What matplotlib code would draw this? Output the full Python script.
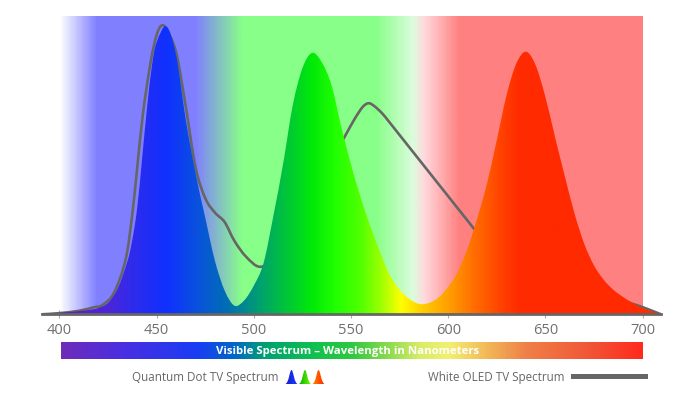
import numpy as np
import matplotlib
matplotlib.use("Agg")
import matplotlib.pyplot as plt
from matplotlib.path import Path
from matplotlib.patches import PathPatch
from matplotlib.colors import LinearSegmentedColormap

# Quantum dot TV spectrum (relative intensity)
qd_nm = [400, 405, 410, 415, 420, 425, 430, 435, 437.5, 440, 442.5, 445, 447.5, 450, 455,
         460, 465, 470, 475, 480, 485, 490, 495, 500, 505, 510, 515, 520, 525, 530,
         535, 540, 545, 550, 555, 560, 565, 570, 575, 580, 585, 590, 595, 600, 605,
         610, 615, 620, 625, 630, 635, 640, 645, 650, 655, 660, 665, 670, 675, 680,
         685, 690, 695, 700, 705, 709]
qd_val = [0.5, 0.8, 1.1, 1.5, 2.2, 4.0, 9.0, 18.5, 26.0, 37.0, 54.0, 71.5, 86.0, 94.5, 100.0,
          90.0, 67.5, 49.0, 33.5, 18.5, 8.2, 3.0, 4.8, 10.0, 17.8, 34.0, 52.0, 72.5, 85.5, 90.8,
          87.5, 79.5, 65.0, 52.0, 40.5, 30.5, 21.5, 13.5, 8.5, 5.3, 3.6, 3.9, 5.8, 9.5, 14.8,
          23.0, 33.5, 45.5, 60.5, 76.0, 87.0, 91.2, 86.5, 75.5, 61.5, 48.0, 35.0, 24.5, 17.0, 12.0,
          8.5, 6.0, 3.9, 2.2, 1.0, 0.3]

# White OLED TV spectrum
oled_nm = [391, 400, 410, 418, 422, 428, 434, 437.5, 440, 443, 447, 450, 452.5, 455, 460,
           465, 470, 475, 480, 485, 490, 496, 503, 510, 520, 530, 540, 547, 552, 556,
           559, 562, 566, 570, 580, 590, 600, 610, 615, 630, 650, 670, 690, 695, 700,
           705, 709.5]
oled_val = [0.0, 0.4, 1.2, 2.5, 3.2, 7.4, 18.9, 35.0, 51.0, 70.0, 88.0, 97.0, 100.3, 99.0, 91.0,
            72.0, 51.0, 40.3, 35.3, 32.0, 25.5, 20.0, 16.5, 19.5, 30.0, 42.0, 53.5, 62.0, 68.0, 72.0,
            73.3, 72.3, 69.8, 66.5, 58.0, 49.5, 41.0, 32.5, 28.5, 18.5, 9.0, 5.5, 4.4, 3.6, 2.5,
            1.2, 0.0]

ticks = [400, 450, 500, 550, 600, 650, 700]

# colour stops
bg_nm = [400, 419, 470, 494, 563, 582, 588, 606, 700]
bg_col = ["#ffffff", "#8080ff", "#8080ff", "#88ff88", "#88ff88", "#dcfcdc", "#ffd8dc", "#ff8080", "#ff8080"]
fill_nm = [400, 425, 440, 455, 470, 487, 503, 515, 530, 542, 555, 566, 576, 586, 600, 614, 627, 637, 709.5]
fill_col = ["#6a1fb0", "#4a26d8", "#2a2cf0", "#1030ff", "#0a50e0", "#0070b0", "#00a070", "#00c040",
            "#00ea08", "#20ff00", "#50ff00", "#a0ff00", "#ffff00", "#ffd000", "#ffa000", "#ff6c00",
            "#ff4400", "#ff2a00", "#ff2a00"]
bar_nm = [400, 430, 470, 490, 505, 530, 550, 570, 585, 600, 620, 640, 670, 700]
bar_col = ["#6e2cb8", "#4c2ee0", "#1a3cf5", "#0068c8", "#00a070", "#10c050", "#30c840", "#90dc50",
           "#d8ec68", "#f2f072", "#f2b858", "#f08048", "#f05a38", "#ff2a1e"]


def make_cmap(nm, cols):
    lo, hi = nm[0], nm[-1]
    return LinearSegmentedColormap.from_list(
        "c", [((v - lo) / (hi - lo), c) for v, c in zip(nm, cols)], N=512)


def gradient(ax, nm, cols, y0, y1, **kw):
    g = np.linspace(0, 1, 600).reshape(1, -1)
    return ax.imshow(g, cmap=make_cmap(nm, cols), aspect="auto",
                     extent=[nm[0], nm[-1], y0, y1], interpolation="bilinear", **kw)


def smooth_path(xs, ys, close=False):
    # catmull-rom through the points, drawn as bezier segments
    pts = np.column_stack([xs, ys]).astype(float)
    n = len(pts)
    verts = [pts[0]]
    codes = [Path.MOVETO]
    for i in range(n - 1):
        p0, p1 = pts[max(i - 1, 0)], pts[i]
        p2, p3 = pts[i + 1], pts[min(i + 2, n - 1)]
        verts += [p1 + (p2 - p0) / 6, p2 - (p3 - p1) / 6, p2]
        codes += [Path.CURVE4] * 3
    if close:
        verts += [(xs[-1], 0), (xs[0], 0), (xs[0], 0)]
        codes += [Path.LINETO, Path.LINETO, Path.CLOSEPOLY]
    return Path(verts, codes)


W, H = 696, 397
fig = plt.figure(figsize=(W / 100, H / 100), dpi=100)
ax = fig.add_axes([42 / W, (H - 314.3) / H, 619 / W, 298.3 / H])
ax.set_xlim(391, 709.5)
ax.set_ylim(0, 103.6)

# coloured background bands
gradient(ax, bg_nm, bg_col, 0, 103.6, zorder=0)

# white OLED line sits under the QD fill
ax.add_patch(PathPatch(smooth_path(oled_nm, oled_val), fill=False, edgecolor="#666666",
                       lw=1.9, zorder=2, capstyle="round", joinstyle="round"))

# QD spectrum, filled with the spectrum colours
qd_patch = PathPatch(smooth_path(qd_nm, qd_val, close=True), facecolor="none",
                     edgecolor="none", transform=ax.transData)
ax.add_patch(qd_patch)
im = gradient(ax, fill_nm, fill_col, 0, 103.6, zorder=3)
im.set_clip_path(qd_patch)
ax.set_xlim(391, 709.5)
ax.set_ylim(0, 103.6)

for s in ["top", "right", "left"]:
    ax.spines[s].set_visible(False)
ax.spines["bottom"].set_color("#666666")
ax.spines["bottom"].set_linewidth(2)
ax.spines["bottom"].set_zorder(5)
ax.set_yticks([])
ax.set_xticks(ticks)
ax.tick_params(axis="x", direction="inout", length=6, width=0.8, color="#aaaaaa",
               labelsize=10.5, labelcolor="#707070", pad=3.5)
for lab in ax.get_xticklabels():
    lab.set_family("Open Sans")

# spectrum bar
bax = fig.add_axes([60.7 / W, (H - 359.3) / H, 582 / W, 17.5 / H])
gradient(bax, bar_nm, bar_col, 0, 1)
bax.set_xlim(400, 700)
bax.set_ylim(0, 1)
bax.axis("off")
bax.text(548, 0.47, "Visible Spectrum \u2013 Wavelength in Nanometers", color="white",
         fontsize=8.2, fontweight="bold", family="Open Sans", ha="center", va="center")

# legend
fig.text(278 / W, 1 - 377 / H, "Quantum Dot TV Spectrum", ha="right", va="center",
         fontsize=8.4, color="#666666", family="Open Sans")
icon_cols = [("#1a1ad0", "#1040ff"), ("#00b000", "#80ff00"), ("#ff8a00", "#ff2000")]
bell = Path([(0, 0), (0.3, 0), (0.35, 1), (0.5, 1), (0.65, 1), (0.7, 0), (1, 0), (0, 0)],
            [Path.MOVETO, Path.CURVE4, Path.CURVE4, Path.CURVE4, Path.CURVE4, Path.CURVE4,
             Path.CURVE4, Path.CLOSEPOLY])
for k, (c1, c2) in enumerate(icon_cols):
    iax = fig.add_axes([(285 + k * 13.5) / W, 1 - 384 / H, 13 / W, 14 / H])
    iax.set_xlim(0, 1)
    iax.set_ylim(0, 1)
    iax.axis("off")
    tri = PathPatch(bell, facecolor="none", edgecolor="none", transform=iax.transData)
    iax.add_patch(tri)
    g = iax.imshow(np.linspace(0, 1, 50).reshape(1, -1),
                   cmap=LinearSegmentedColormap.from_list("i", [c1, c2]),
                   extent=[0, 1, 0, 1], aspect="auto")
    g.set_clip_path(tri)

fig.text(565 / W, 1 - 377 / H, "White OLED TV Spectrum", ha="right", va="center",
         fontsize=8.4, color="#666666", family="Open Sans")
fig.add_artist(plt.Line2D([573 / W, 645 / W], [1 - 375.7 / H, 1 - 375.7 / H],
                          color="#666666", lw=3.6, transform=fig.transFigure))

fig.savefig("out.png", dpi=100)
